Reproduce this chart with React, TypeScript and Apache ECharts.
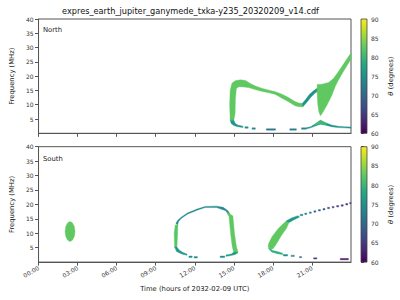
import React, { useEffect, useRef } from "react";
import * as echarts from "echarts";

// ---------- data (time in hours, frequency in MHz, theta in degrees) ----------
const xTickHours = [0, 3, 6, 9, 12, 15, 18, 21];
const yTicks = [5, 10, 15, 20, 25, 30, 35, 40];
const viridis = ["#440154", "#482475", "#414487", "#355f8d", "#2a788e", "#21918c", "#22a884", "#44bf70", "#7ad151", "#bddf26", "#fde725"];

// North hemisphere emission outlines [t, f]
const northLoop = [[14.72,4.6],[14.68,10],[14.72,15],[14.85,17.5],[15.1,18.4],[15.5,18.7],[15.9,18.5],[16.3,17.3],[16.7,16.5],[17.2,15.7],[17.7,15.1],[18.2,14.5],[18.7,13.7],[19.2,12.5],[19.7,11.1],[20.0,10.6],[20.25,10.4],[20.3,9.3],[20.0,9.3],[19.7,9.6],[19.2,11.0],[18.7,12.3],[18.2,13.6],[17.7,14.2],[17.2,14.6],[16.7,15.2],[16.2,15.9],[15.8,16.2],[15.4,16.3],[15.2,15.8],[15.12,12],[15.1,7],[15.0,4.6]];
const northHook = [[14.72,4.6],[14.8,3.4],[15.0,2.7],[15.3,2.3],[15.7,2.0],[15.7,2.5],[15.3,2.9],[15.1,3.5],[15.0,4.6]];
const northRise = [[20.25,10.4],[20.5,11.7],[20.8,13.6],[21.1,14.8],[21.45,15.9],[21.45,14.8],[21.2,13.9],[20.9,12.5],[20.6,10.8],[20.3,9.3]];
const northWedge = [[21.40,17.1],[21.78,17.2],[22.28,17.8],[22.65,19.2],[23.03,21.5],[23.4,24.1],[23.9,27.5],[24.0,28.0],[24.0,26.0],[23.9,25.2],[23.4,21.5],[23.03,18.6],[22.78,16.3],[22.53,13.3],[22.15,9.8],[21.78,6.9],[21.65,6.1],[21.53,7.5],[21.45,10],[21.40,14]];
const northBump = [[20.55,1.9],[20.9,2.3],[21.3,3.4],[21.65,4.6],[22.0,3.8],[22.5,2.9],[23.0,2.5],[23.5,2.3],[24.0,2.2],[24.0,1.8],[23.5,1.9],[23.0,2.0],[22.5,2.3],[22.0,2.9],[21.65,3.2],[21.3,2.6],[20.9,1.9],[20.55,1.5]];
const northBumpCore = [[21.15,2.9],[21.4,3.7],[21.65,4.5],[21.9,3.9],[22.2,3.3],[21.9,3.0],[21.65,3.3],[21.4,2.9]];
const northThetas = [82.5, 75.5, 75, 82.5, 75.5, 80.5];
// North short dashes [t0, t1, f0, f1, theta]
const northDashes = [[15.85,16.1,1.8,2.3,75],[16.4,16.65,1.4,1.9,74],[17.5,18.2,1.1,1.6,72],[19.3,19.8,1.1,1.6,73],[20.2,20.55,1.4,1.9,74]];

// South hemisphere emission outlines [t, f]
const southBlob = [[2.42,14.1],[2.6,13.6],[2.75,12.3],[2.8,10.6],[2.75,8.9],[2.6,7.6],[2.42,7.1],[2.24,7.6],[2.09,8.9],[2.04,10.6],[2.09,12.3],[2.24,13.6]];
const southLoopTop = [[10.55,13.4],[10.68,14.4],[10.93,15.5],[11.43,17.0],[12.18,18.4],[12.8,19.3],[13.68,19.4],[14.18,19.0],[14.55,17.8],[14.7,16.6],[14.58,16.6],[14.38,17.8],[13.68,18.9],[12.8,18.9],[12.18,18.0],[11.43,16.6],[10.93,15.0],[10.75,14.0],[10.68,12.9]];
const southLoopRight = [[14.6,17.0],[14.93,16.0],[15.05,10.0],[15.2,5.3],[15.32,3.6],[15.28,3.0],[14.9,2.6],[14.98,3.6],[14.88,5.3],[14.75,10.0],[14.63,15.8],[14.5,16.8]];
const southRightHook = [[15.3,3.4],[15.1,2.6],[14.7,2.2],[14.4,2.0],[14.4,2.5],[14.8,2.8],[15.0,3.4]];
const southLoopLeft = [[10.5,12.9],[10.7,12.9],[10.68,10],[10.63,5.2],[10.45,5.2],[10.42,10]];
const southLeftHook = [[10.45,5.2],[10.63,5.2],[10.8,4.2],[11.1,3.3],[11.4,2.8],[11.4,2.35],[11.0,2.8],[10.6,3.7]];
const southArm = [[17.63,5.3],[17.68,6.5],[17.93,8.8],[18.43,11.7],[18.92,13.8],[19.2,14.6],[19.3,14.3],[19.05,11.7],[18.68,9.4],[18.3,6.5],[18.05,4.8],[17.8,4.2]];
const southArmTail = [[19.0,14.2],[19.43,15.3],[19.93,16.1],[20.05,15.6],[19.55,14.5],[19.3,13.8]];
const southLowerArm = [[17.65,4.8],[18.0,4.0],[18.4,3.6],[18.75,3.1],[18.75,2.6],[18.35,2.9],[17.9,3.5]];
const southThetas = [82.5, 74, 82.5, 76, 82, 76, 82.5, 76, 79];
// South short dashes [t0, t1, f0, f1, theta]
const southDashes = [[11.55,11.8,1.6,2.1,75],[11.95,12.2,1.4,1.9,75],[13.95,14.3,1.6,2.1,75],[18.8,19.13,2.1,2.6,75],[19.4,19.65,1.95,2.4,74],[20.05,20.2,1.5,1.95,71],[21.13,21.38,1.05,1.5,66],[23.18,23.8,0.8,1.25,61],
  [20.1,20.3,16.1,16.6,74],[20.45,20.6,16.5,17.0,73],[20.8,20.95,16.9,17.4,71],[21.15,21.3,17.3,17.8,70],[21.5,21.65,17.7,18.2,69],[21.85,22.0,18.1,18.6,68],[22.2,22.35,18.5,19.0,67],[22.55,22.7,18.8,19.3,66],[22.9,23.05,19.1,19.6,66],[23.25,23.4,19.4,19.9,65],[23.6,23.75,19.8,20.3,65],[23.9,24.0,20.2,20.7,65]];

const FONT = "DejaVu Sans";

type Shape = { pts: number[][]; theta: number };
function buildShapes(polys: number[][][], thetas: number[], dashes: number[][]): Shape[] {
  const out: Shape[] = polys.map((p, i) => ({ pts: p, theta: thetas[i] }));
  dashes.forEach((d) => out.push({ pts: [[d[0], d[2]], [d[1], d[2]], [d[1], d[3]], [d[0], d[3]]], theta: d[4] }));
  return out;
}

const northShapes = buildShapes([northLoop, northHook, northRise, northWedge, northBump, northBumpCore], northThetas, northDashes);
const southShapes = buildShapes([southBlob, southLoopTop, southLoopRight, southRightHook, southLoopLeft, southLeftHook, southArm, southArmTail, southLowerArm], southThetas, southDashes);

function shapeSeries(shapes: Shape[], idx: number) {
  return {
    type: "custom",
    xAxisIndex: idx,
    yAxisIndex: idx,
    clip: true,
    dimensions: ["t", "f", "theta", "id"],
    encode: { x: 0, y: 1 },
    data: shapes.map((s, i) => [s.pts[0][0], s.pts[0][1], s.theta, i]),
    renderItem: (params: any, api: any) => {
      const s = shapes[api.value(3)];
      const points = s.pts.map((p) => api.coord(p));
      const c = api.visual("color");
      return { type: "polygon", shape: { points }, style: { fill: c, stroke: c, lineWidth: 0.4 } };
    },
  };
}

function colorbarSeries(idx: number) {
  return {
    type: "custom",
    xAxisIndex: idx,
    yAxisIndex: idx,
    data: [[0, 60]],
    renderItem: (params: any, api: any) => {
      const a = api.coord([0, 90]);
      const b = api.coord([1, 60]);
      return {
        type: "rect",
        shape: { x: a[0], y: a[1], width: b[0] - a[0], height: b[1] - a[1] },
        style: {
          fill: new echarts.graphic.LinearGradient(0, 1, 0, 0, viridis.map((c, i) => ({ offset: i / (viridis.length - 1), color: c }))),
          stroke: "#444",
          lineWidth: 0.8,
        },
      };
    },
  };
}

const fmtHour = (v: number) => (v < 10 ? "0" + v : "" + v) + ":00";

function timeAxis(idx: number, labels: boolean) {
  return {
    type: "value", gridIndex: idx, min: 0, max: 24, interval: 3,
    axisLine: { show: true, lineStyle: { color: "#555", width: 1 } },
    axisTick: { show: true, length: 3.5, customValues: xTickHours, lineStyle: { color: "#555" } },
    axisLabel: labels
      ? { show: true, customValues: xTickHours, rotate: 30, fontSize: 6, color: "#333", fontFamily: FONT, margin: 5, formatter: (v: number) => fmtHour(v) }
      : { show: false },
    splitLine: { show: false },
    name: labels ? "Time (hours of 2032-02-09 UTC)" : "",
    nameLocation: "middle",
    nameGap: 23,
    nameTextStyle: { fontSize: 6.8, color: "#222", fontFamily: FONT },
  };
}

function freqAxis(idx: number) {
  return {
    type: "value", gridIndex: idx, min: 0, max: 40, interval: 5,
    axisLine: { show: true, lineStyle: { color: "#555", width: 1 } },
    axisTick: { show: true, length: 3.5, customValues: yTicks, lineStyle: { color: "#555" } },
    axisLabel: { show: true, customValues: yTicks, fontSize: 6, color: "#333", fontFamily: FONT, margin: 5 },
    splitLine: { show: false },
    name: "Frequency (MHz)",
    nameLocation: "middle",
    nameRotate: 90,
    nameGap: 18,
    nameTextStyle: { fontSize: 6.8, color: "#222", fontFamily: FONT },
  };
}

function cbAxisY(idx: number) {
  return {
    type: "value", gridIndex: idx, min: 60, max: 90, interval: 5, position: "right",
    axisLine: { show: false },
    axisTick: { show: true, length: 3, lineStyle: { color: "#444" } },
    axisLabel: { show: true, fontSize: 6, color: "#333", fontFamily: FONT, margin: 4 },
    splitLine: { show: false },
    name: "{i|θ} (degrees)",
    nameLocation: "middle",
    nameRotate: 90,
    nameGap: 20,
    nameTextStyle: { fontSize: 6.8, color: "#222", fontFamily: FONT, rich: { i: { fontStyle: "italic", fontSize: 6.8, fontFamily: FONT } } },
  };
}

export default function App() {
  const ref = useRef<HTMLDivElement>(null);
  useEffect(() => {
    document.body.style.margin = "0";
    const chart = echarts.init(ref.current!, null, { renderer: "svg" });
    chart.setOption({
      animation: false,
      backgroundColor: "#fff",
      textStyle: { fontFamily: FONT },
      grid: [
        { left: 31, top: 19, width: 320, height: 114.3, show: true, borderColor: "#555", borderWidth: 1 },
        { left: 31, top: 146.7, width: 320, height: 115.4, show: true, borderColor: "#555", borderWidth: 1 },
        { left: 361, top: 19, width: 6, height: 114.3 },
        { left: 361, top: 146.7, width: 6, height: 115.4 },
      ],
      xAxis: [timeAxis(0, false), timeAxis(1, true),
        { type: "value", gridIndex: 2, min: 0, max: 1, show: false },
        { type: "value", gridIndex: 3, min: 0, max: 1, show: false }],
      yAxis: [freqAxis(0), freqAxis(1), cbAxisY(2), cbAxisY(3)],
      visualMap: {
        type: "continuous", show: false, min: 60, max: 90, dimension: 2, seriesIndex: [0, 1],
        inRange: { color: viridis },
      },
      graphic: [
        { type: "text", x: 190.5, y: 11, style: { text: "expres_earth_jupiter_ganymede_txka-y235_20320209_v14.cdf", fontSize: 8.2, fontFamily: FONT, fill: "#111", textAlign: "center", textVerticalAlign: "middle" } },
        { type: "text", x: 43, y: 30, style: { text: "North", fontSize: 6.8, fontFamily: FONT, fill: "#222", textAlign: "left", textVerticalAlign: "middle" } },
        { type: "text", x: 43, y: 158.5, style: { text: "South", fontSize: 6.8, fontFamily: FONT, fill: "#222", textAlign: "left", textVerticalAlign: "middle" } },
      ],
      series: [shapeSeries(northShapes, 0), shapeSeries(southShapes, 1), colorbarSeries(2), colorbarSeries(3)],
    });
    return () => chart.dispose();
  }, []);
  return <div ref={ref} style={{ width: 400, height: 300 }} />;
}
